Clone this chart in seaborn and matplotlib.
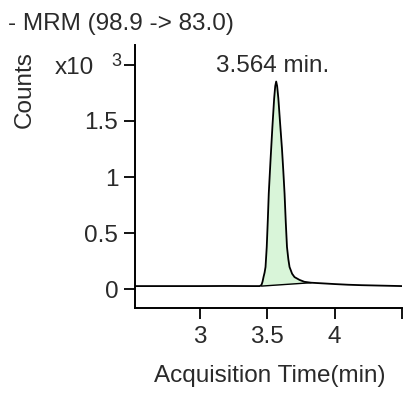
import numpy as np
import pandas as pd
import matplotlib
matplotlib.use("Agg")
import matplotlib.pyplot as plt
import seaborn as sns

# Chromatogram trace (time in min, counts in x10^3)
time_min = [2.52, 2.80, 3.00, 3.20, 3.40, 3.445, 3.458, 3.466, 3.473, 3.481, 3.488,
            3.497, 3.505, 3.512, 3.525, 3.539, 3.552, 3.560, 3.567, 3.574, 3.583,
            3.596, 3.610, 3.620, 3.629, 3.638, 3.647, 3.657, 3.666, 3.685, 3.703,
            3.740, 3.776, 3.826, 3.90, 4.00, 4.10, 4.20, 4.35, 4.50]
counts_k = [0.030, 0.030, 0.030, 0.031, 0.030, 0.030, 0.040, 0.070, 0.110, 0.150, 0.200,
            0.379, 0.620, 0.855, 1.150, 1.448, 1.700, 1.810, 1.850, 1.810, 1.700,
            1.480, 1.250, 1.050, 0.855, 0.600, 0.379, 0.270, 0.200, 0.140, 0.110,
            0.085, 0.068, 0.060, 0.055, 0.048, 0.042, 0.038, 0.034, 0.030]

peak_start, peak_end = 3.458, 3.826
base_start, base_end = 0.030, 0.060

y_ticks = [0, 0.5, 1, 1.5, 2]
y_tick_labels = ["0", "0.5", "1", "1.5", ""]
x_ticks = [3, 3.5, 4, 4.5]
x_tick_labels = ["3", "3.5", "4", ""]

title = "- MRM (98.9 -> 83.0)"
peak_label = "3.564 min."
x_label = "Acquisition Time(min)"
y_label = "Counts"

sns.set_style("ticks")
plt.rcParams['font.family'] = ['Liberation Sans', 'DejaVu Sans']

FS = 17.5
TXT = "#2a2a2a"

df = pd.DataFrame({"t": time_min, "c": counts_k})

fig = plt.figure(figsize=(4.03, 3.94), dpi=100)
ax = fig.add_axes([135/403, 86/394, 267/403, 263/394])

# fill peak area above integration baseline
t = np.array(time_min)
c = np.array(counts_k)
mask = (t >= peak_start) & (t <= peak_end)
tb = t[mask]
base = base_start + (tb - peak_start) * (base_end - base_start) / (peak_end - peak_start)
ax.fill_between(tb, base, c[mask], color="#d9f5d9", lw=0)
ax.plot([peak_start, peak_end], [base_start, base_end], color="black", lw=1.0)

sns.lineplot(data=df, x="t", y="c", color="black", lw=1.3, ax=ax)

ax.set_xlim(2.52, 4.5)
ax.set_ylim(-0.165, 2.175)
ax.set_xticks(x_ticks)
ax.set_xticklabels(x_tick_labels)
ax.set_yticks(y_ticks)
ax.set_yticklabels(y_tick_labels)
ax.tick_params(axis="both", length=8, width=1.3, labelsize=FS, colors="black",
               labelcolor=TXT, direction="out")
ax.tick_params(axis="y", pad=4)
ax.tick_params(axis="x", pad=5)
for s in ["top", "right"]:
    ax.spines[s].set_visible(False)
for s in ["left", "bottom"]:
    ax.spines[s].set_linewidth(1.4)
    ax.spines[s].set_color("black")
ax.set_xlabel("")
ax.set_ylabel("")

fig.text(270/403, 1 - 376/394, x_label, fontsize=FS, va="center", ha="center", color=TXT)
fig.text(8/403, 1 - 24/394, title, fontsize=FS, va="center", ha="left", color=TXT)
fig.text(25/403, 1 - 90/394, y_label, fontsize=FS, rotation=90, va="center", ha="center", color=TXT)
fig.text(55/403, 1 - 68/394, "x10", fontsize=FS, va="center", ha="left", color=TXT)
fig.text(111/403, 1 - 61/394, "3", fontsize=13, va="center", ha="left", color=TXT)
fig.text(273/403, 1 - 66/394, peak_label, fontsize=FS, va="center", ha="center", color=TXT)

fig.savefig("out.png", dpi=100)
